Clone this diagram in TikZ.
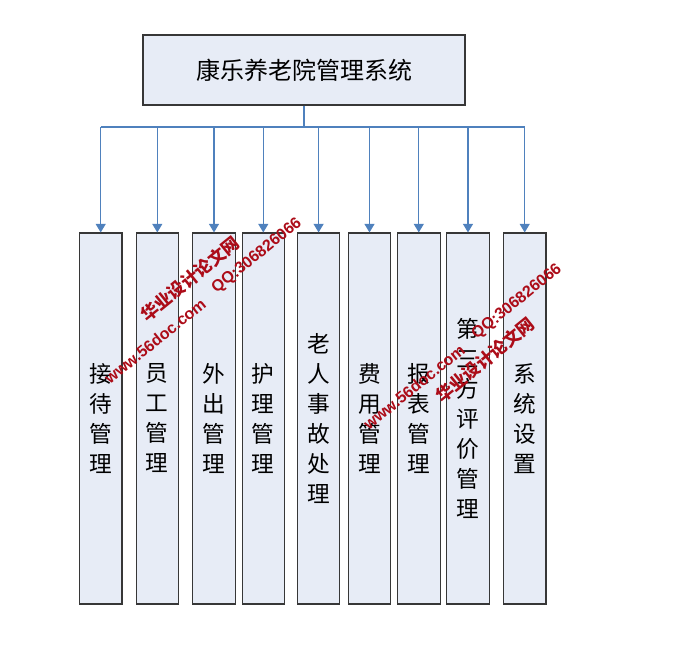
\documentclass[tikz,border=0pt]{standalone}
\usepackage{fontspec}
\setmainfont{Liberation Sans}
\newfontfamily\cjk{Noto Sans CJK SC}
\newfontfamily\wmlat{Liberation Sans}
\usetikzlibrary{arrows.meta}
\definecolor{boxfill}{RGB}{231,236,246}
\definecolor{boxline}{RGB}{55,55,55}
\definecolor{conn}{RGB}{79,129,189}
\definecolor{wmred}{RGB}{172,12,24}
\tikzset{
  topbox/.style={draw=boxline, line width=0.8pt, fill=boxfill, minimum width=241.5pt, minimum height=52.5pt, inner sep=0pt, font=\cjk\fontsize{18}{20}\selectfont},
  subbox/.style={draw=boxline, line width=0.8pt, fill=boxfill, minimum width=31.9pt, minimum height=278.25pt, inner sep=0pt, align=center, font=\cjk\fontsize{17}{22.5}\selectfont},
  connline/.style={draw=conn, line width=1pt},
  connarrow/.style={draw=conn, line width=1pt, -{Triangle[width=7.5pt,length=6.5pt]}},
  wmcn/.style={text=wmred, rotate=39, inner sep=0pt, font=\cjk\bfseries\fontsize{13}{13}\selectfont},
  wmen/.style={text=wmred, rotate=39, inner sep=0pt, font=\wmlat\bfseries\fontsize{12}{12}\selectfont}
}
\begin{document}
\begin{tikzpicture}[x=0.75pt, y=-0.75pt]
\useasboundingbox (0,0) rectangle (682,665);
\node[topbox] (top) at (304,70) {康乐养老院管理系统};
\node[subbox] (b1) at (100.7,418.5) {接\\待\\管\\理};
\node[subbox] (b2) at (157.3,418.5) {员\\工\\管\\理};
\node[subbox] (b3) at (214,418.5) {外\\出\\管\\理};
\node[subbox] (b4) at (263.3,418.5) {护\\理\\管\\理};
\node[subbox] (b5) at (318.6,418.5) {老\\人\\事\\故\\处\\理};
\node[subbox] (b6) at (369.5,418.5) {费\\用\\管\\理};
\node[subbox] (b7) at (418.8,418.5) {报\\表\\管\\理};
\node[subbox] (b8) at (468,418.5) {第\\三\\方\\评\\价\\管\\理};
\node[subbox] (b9) at (524.7,418.5) {系\\统\\设\\置};
\coordinate (busL) at (100.7,127);
\coordinate (busR) at (524.7,127);
\draw[connline] (top.south) -- (top.south |- busL);
\draw[connline] (busL) -- (busR);
\foreach \b in {b1,b2,b3,b4,b5,b6,b7,b8,b9}{
  \draw[connarrow] (\b.north |- busL) -- (\b.north);
}
% watermarks
\node[wmcn] (w1) at (190,279) {华业设计论文网};
\node[wmen] (w2) at (155,341) {www.56doc.com};
\node[wmen] (w3) at (257,256) {QQ:306826066};
\node[wmen] (w4) at (414,387) {www.56doc.com};
\node[wmen] (w5) at (517,302) {QQ:306826066};
\node[wmcn] (w6) at (485,360) {华业设计论文网};
\end{tikzpicture}
\end{document}
